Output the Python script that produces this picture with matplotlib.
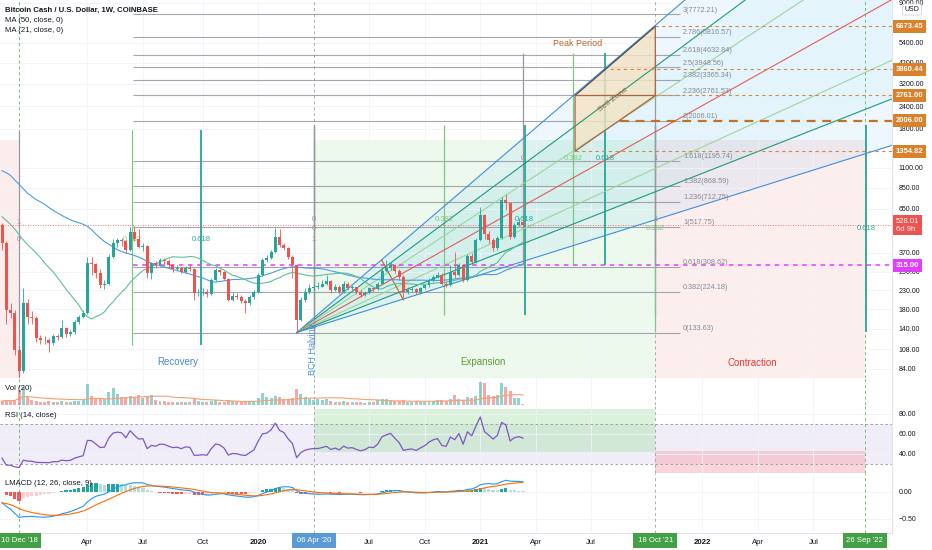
import numpy as np
import pandas as pd
import matplotlib
matplotlib.use('Agg')
import matplotlib.pyplot as plt
from matplotlib import transforms
from matplotlib.patches import Rectangle, Polygon
from matplotlib.ticker import NullLocator

plt.rcParams['font.family'] = ['Liberation Sans', 'DejaVu Sans']

# ---- weekly candles, first candle = week of 12 Nov 2018 ----
start = pd.Timestamp('2018-11-12')
first_open = 528.0
closes = [420, 178, 172, 107, 82, 195, 163, 160, 125, 122,
          121, 117, 128, 126, 142, 131, 134, 152, 163, 172,
          325, 320, 285, 245, 250, 351, 420, 436, 430, 384,
          483, 440, 400, 405, 286, 325, 315, 338, 335, 316,
          300, 305, 290, 305, 300, 221, 222, 225, 220, 262,
          297, 290, 265, 203, 213, 210, 200, 195, 210, 225,
          279, 338, 345, 374, 453, 409, 395, 351, 315, 157,
          203, 225, 235, 240, 240, 248, 257, 230, 240, 225,
          250, 235, 238, 225, 216, 222, 235, 232, 250, 293,
          305, 315, 293, 271, 225, 230, 232, 224, 235, 245,
          262, 273, 279, 250, 245, 291, 279, 315, 262, 354,
          330, 436, 600, 472, 436, 392, 446, 727, 697, 455,
          528, 551, 528.01]
highs = [545, 430, 195, 178, 112, 236, 205, 175, 165, 130,
         128, 125, 131, 132, 157, 144, 138, 156, 167, 178,
         351, 350, 325, 300, 262, 365, 440, 450, 445, 438,
         515, 520, 500, 420, 410, 330, 335, 345, 345, 340,
         320, 315, 310, 312, 320, 305, 232, 235, 232, 270,
         305, 300, 295, 268, 225, 222, 215, 205, 215, 230,
         285, 345, 360, 385, 508, 500, 420, 400, 360, 320,
         210, 235, 250, 250, 255, 260, 279, 260, 248, 244,
         258, 254, 246, 240, 230, 228, 240, 240, 256, 305,
         338, 330, 320, 300, 280, 238, 240, 236, 240, 250,
         268, 280, 290, 285, 258, 315, 376, 325, 320, 365,
         370, 450, 667, 610, 490, 445, 460, 759, 780, 700,
         540, 580, 560]
lows = [384, 150, 160, 100, 76, 80, 150, 150, 118, 115,
        116, 104, 114, 121, 124, 127, 128, 132, 149, 160,
        170, 280, 270, 235, 232, 245, 345, 400, 405, 370,
        380, 430, 395, 380, 270, 265, 305, 312, 320, 305,
        290, 295, 285, 285, 295, 203, 212, 215, 210, 215,
        258, 280, 260, 200, 200, 205, 195, 172, 190, 205,
        222, 275, 330, 340, 370, 400, 385, 340, 270, 133.63,
        155, 198, 220, 230, 232, 238, 245, 222, 226, 220,
        222, 230, 230, 220, 210, 212, 218, 225, 230, 248,
        288, 298, 285, 262, 207, 218, 225, 218, 220, 232,
        240, 256, 268, 245, 240, 242, 270, 275, 255, 258,
        320, 325, 430, 440, 420, 380, 385, 440, 640, 440,
        450, 520, 515]
volumes = [4, 5, 4, 5, 15, 18, 8, 5, 4, 3,
           3, 4, 3, 3, 4, 3, 3, 4, 4, 5,
           21, 9, 7, 7, 6, 13, 17, 11, 8, 8,
           9, 8, 10, 7, 8, 10, 5, 4, 4, 3,
           3, 3, 3, 3, 3, 6, 4, 3, 3, 4,
           5, 3, 3, 5, 4, 3, 3, 4, 3, 4,
           7, 12, 8, 7, 9, 8, 6, 6, 7, 16,
           11, 8, 6, 5, 6, 5, 6, 4, 3, 3,
           4, 3, 3, 3, 3, 2, 3, 3, 5, 6,
           6, 5, 4, 4, 5, 3, 3, 3, 3, 3,
           4, 4, 5, 5, 4, 6, 10, 6, 5, 8,
           7, 9, 23, 22, 10, 9, 10, 22, 18, 14,
           7, 7, 1]
# weekly closes before the window (Nov 2017 - Nov 2018), for MA / RSI / MACD warm-up
pre_closes = [1550, 1500, 1600, 1900, 3000, 2500, 2700, 2500, 1700, 1650,
              1150, 1250, 1500, 1250, 1200, 1100, 950, 950, 680, 630,
              700, 1050, 1400, 1650, 1400, 1230, 1050, 1150, 1100, 870,
              760, 740, 750, 750, 820, 820, 720, 570, 580, 540,
              630, 500, 480, 550, 530, 520, 450, 450, 440, 520, 530]

# ---- drawings ----
fib_levels = ['0', '0.382', '0.618', '1', '1.236', '1.382', '1.618', '2',
              '2.236', '2.382', '2.5', '2.618', '2.786', '3']
fib_prices = [133.63, 224.18, 308.62, 517.75, 712.75, 868.59, 1195.74, 2006.01,
              2761.53, 3365.34, 3948.56, 4632.84, 5816.57, 7772.21]
fan_origin = (69, 133.63)
fan_end_week = 208.4
fan_end_prices = [90000, 37500, 19650, 9400, 4330, 2643, 1460]
fan_colors = ['#3d8fe0', '#1e9a7e', '#9fd49a', '#e35d5a', '#9fd49a', '#1e9a7e', '#3d8fe0']

tag_prices = [6673.45, 3860.44, 2761.00, 2006.00, 1354.82]
tag_start_weeks = [153, 142.4, 153, 144.7, 134.2]

time_level_names = ['0', '0.382', '0.618', '1']
timeA_weeks = [4, 30.4, 46.6, 73]
timeB_weeks = [73, 103.6, 122.4, 153]
timeC_weeks = [73, 153, 202.4]
timeD_weeks = [122, 133.8, 141.2, 153]

sell_zone = [(134.2, 2761.0), (153, 6673.45), (153, 2761.0), (134.2, 1354.82)]

UP, DN = '#26a69a', '#ef5350'
GRAY = '#9598a1'
lvl_col = {'0': GRAY, '1': GRAY, '0.382': '#81c784', '0.618': '#26a69a'}

n = len(closes)
x = np.arange(n)
c = np.array(closes, dtype=float)
o = np.array([first_open] + closes[:-1], dtype=float)
h = np.array(highs, dtype=float)
l = np.array(lows, dtype=float)
up = c >= o
cols = np.where(up, UP, DN)

allc = pd.Series(pre_closes + closes, dtype=float)
k = len(pre_closes)
ma50 = allc.rolling(50).mean().values[k:]
ma21 = allc.rolling(21).mean().values[k:]
d = allc.diff()
g = d.clip(lower=0).ewm(alpha=1 / 14, adjust=False).mean()
ls_ = (-d.clip(upper=0)).ewm(alpha=1 / 14, adjust=False).mean()
rsi = (100 - 100 / (1 + g / ls_)).values[k:]
# log MACD: EMAs of ln(close)
lc = np.log(allc)
macd = lc.ewm(span=12, adjust=False).mean() - lc.ewm(span=26, adjust=False).mean()
sig = macd.ewm(span=9, adjust=False).mean()
hist = (macd - sig).values[k:]
macd = macd.values[k:]
sig = sig.values[k:]
vol_ma = pd.Series(volumes, dtype=float).rolling(20, min_periods=1).mean().values


def wk(date):
    return (pd.Timestamp(date) - start).days / 7


XMIN, XMAX = -0.47, 208.43
YMIN, YMAX = 74.8, 9350

fig = plt.figure(figsize=(9.32, 5.5), dpi=100)
W, H = 932.0, 550.0


def pane(top, bottom):
    return [0, 1 - bottom / H, 892 / W, (bottom - top) / H]


ax = fig.add_axes(pane(0, 378))
ax_vol = fig.add_axes(pane(378, 405))
ax_rsi = fig.add_axes(pane(405, 473))
ax_macd = fig.add_axes(pane(473, 533))
axes = [ax, ax_vol, ax_rsi, ax_macd]

month_ticks = [('2019-04-01', 'Apr', False), ('2019-07-01', 'Jul', False), ('2019-10-07', 'Oct', False),
               ('2020-01-06', '2020', True), ('2020-07-06', 'Jul', False), ('2020-10-05', 'Oct', False),
               ('2021-01-04', '2021', True), ('2021-04-05', 'Apr', False), ('2021-07-05', 'Jul', False),
               ('2022-01-03', '2022', True), ('2022-04-04', 'Apr', False), ('2022-07-04', 'Jul', False)]
month_w = [wk(m[0]) for m in month_ticks]

for a in axes:
    a.set_xlim(XMIN, XMAX)
    a.set_xticks(month_w)
    a.tick_params(axis='x', length=0, labelbottom=False)
    a.yaxis.tick_right()
    a.tick_params(axis='y', length=0, labelsize=5, colors='#131722', pad=5)
    a.grid(True, color='#f0f3fa', lw=0.6)
    a.set_axisbelow(True)
    for s in ['top', 'left']:
        a.spines[s].set_visible(False)
    for s in ['right', 'bottom']:
        a.spines[s].set_color('#e0e3eb')
        a.spines[s].set_linewidth(0.8)

# ---- main price pane ----
ax.set_yscale('log')
ax.set_ylim(YMIN, YMAX)
price_ticks = [84, 108, 140, 180, 230, 290, 370, 650, 850, 1100, 1800, 2400, 3200, 4200, 5400, 9000]
ax.set_yticks(price_ticks)
ax.set_yticklabels([f'{t:.2f}' for t in price_ticks])
ax.yaxis.set_minor_locator(NullLocator())

# background cycle zones
ax.fill_between([XMIN, 4], YMIN, 1563, color='#f9d9d9', alpha=0.45, lw=0, zorder=0.2)
ax.fill_between([73, 153], YMIN, 1563, color='#d6f2d6', alpha=0.45, lw=0, zorder=0.2)
ax.fill_between([153, 202], YMIN, 1563, color='#fbdada', alpha=0.45, lw=0, zorder=0.2)

# speed resistance fan
ox, oy = fan_origin
ax.fill([ox, fan_end_week, fan_end_week], [oy, fan_end_prices[0], fan_end_prices[-1]],
        color='#2196f3', alpha=0.07, lw=0, zorder=0.5)
ax.fill([ox, fan_end_week, fan_end_week], [oy, fan_end_prices[1], fan_end_prices[-2]],
        color='#26c6da', alpha=0.05, lw=0, zorder=0.5)
for p, col in zip(fan_end_prices, fan_colors):
    ax.plot([ox, fan_end_week], [oy, p], color=col, lw=0.8, zorder=2)

# fib extension levels
ax.hlines(fib_prices, 30.7, 158.8, color=GRAY, lw=0.8, alpha=0.85, zorder=1.5)
for lv, p in zip(fib_levels, fib_prices):
    ax.annotate(f'{lv}({p:.2f})', (159.5, p), xytext=(0, 3.2), textcoords='offset points',
                fontsize=5.2, color='#858892', va='center', ha='left', zorder=3)

# trend based fib time
def time_tool(weeks, lo, hi, label_p, names=time_level_names):
    for w, nm in zip(weeks, names):
        ax.vlines(w, lo, hi, color=lvl_col[nm], lw=1.3 if nm == '0.618' else 0.9, zorder=1.6)
        ax.text(w, label_p, nm, fontsize=5.5, color=lvl_col[nm], ha='center', va='center', zorder=3)


time_tool(timeA_weeks, 114, 1777, 441)
ax.vlines(4, YMIN, 114, color=GRAY, lw=0.9, zorder=1.6)
ax.text(4, 548, '1', fontsize=5.5, color=GRAY, ha='center', va='center')
time_tool(timeB_weeks, 167, 1893, 563)
time_tool(timeC_weeks, 135, 1893, 502, names=['0', '0.382', '0.618'])
time_tool(timeD_weeks, 317, 4753, 1228)

# horizontal rays / price tags
ax.axhline(528.01, color=DN, lw=0.6, ls=(0, (1, 2)), zorder=2)
ax.hlines(315, 30.7, XMAX, color='#e040fb', lw=1.1, ls=(0, (3, 3)), zorder=2.5)
for p, s0 in zip(tag_prices, tag_start_weeks):
    big = p == 2006.00
    ax.hlines(p, s0, XMAX, color='#c0722b' if big else '#d08a4a', lw=1.6 if big else 0.8,
              ls=(0, (4, 3)) if big else (0, (3, 3)), zorder=2.5)

# sell zone
ax.add_patch(Polygon(sell_zone, closed=True, fc='#f3e3c3', ec='none', alpha=0.8, zorder=1.7))
zx = [p[0] for p in sell_zone]
zy = [p[1] for p in sell_zone]
ax.plot([zx[0], zx[1]], [zy[0], zy[1]], color='#4e4a4a', lw=0.9, zorder=2.6)
ax.plot([zx[1], zx[2], zx[3], zx[0], zx[2]], [zy[1], zy[2], zy[3], zy[0], zy[2]],
        color='#a8653e', lw=0.9, zorder=2.6)
ax.text(134.7, 5330, 'Peak Period', fontsize=6.5, color='#b5652a', ha='center', va='center')
ax.text(143.1, 2606, 'Sell Zone', fontsize=6, color='#a8653e', ha='center', va='center',
        rotation=38, zorder=6)

# small corrective leg
ax.plot([88.9, 94], [338, 203], color='#b5652a', lw=0.8, zorder=2.6)

# candles
ax.vlines(x, l, h, color=cols, lw=0.6, zorder=4)
ax.bar(x, np.maximum(np.abs(c - o), c * 0.006), bottom=np.minimum(o, c), width=0.7,
       color=cols, zorder=5)
ax.plot(x, ma50, color='#4c9be8', lw=0.8, zorder=4.5)
ax.plot(x, ma21, color='#5fbf9a', lw=0.8, zorder=4.5)

# zone names
ax.text(41.2, 91.8, 'Recovery', fontsize=7, color='#4a86c8', ha='center', va='center')
ax.text(112.6, 91.8, 'Expansion', fontsize=7, color='#5f9a36', ha='center', va='center')
ax.text(175.6, 90.6, 'Contraction', fontsize=7, color='#e53935', ha='center', va='center')
ax.text(72.8, 108, 'BCH Halving', fontsize=6.5, color='#4a90d9', ha='center', va='center', rotation=90)

# price axis tags
trans = transforms.blended_transform_factory(ax.transAxes, ax.transData)
for p in tag_prices:
    ax.text(1.004, p, f'{p:.2f}', transform=trans, fontsize=5.5, color='white', fontweight='bold',
            va='center', ha='left', zorder=10, clip_on=False,
            bbox=dict(boxstyle='square,pad=0.38', fc='#d9822b', ec='none'))
ax.text(1.004, 528.01, '528.01\n6d 9h', transform=trans, fontsize=5.5, color='white',
        va='center', ha='left', zorder=10, clip_on=False, linespacing=1.2,
        bbox=dict(boxstyle='square,pad=0.38', fc='#ef5350', ec='none'))
ax.text(1.004, 315, '315.00', transform=trans, fontsize=5.5, color='white', fontweight='bold',
        va='center', ha='left', zorder=10, clip_on=False,
        bbox=dict(boxstyle='square,pad=0.38', fc='#e040fb', ec='none'))
fig.text(912 / W, 1 - 9.5 / H, 'USD', fontsize=5, color='#131722', ha='center', va='center', zorder=20,
         bbox=dict(boxstyle='round,pad=0.3', fc='white', ec='#d1d4dc', lw=0.6))

# header
fig.text(5 / W, 1 - 10 / H, 'Bitcoin Cash / U.S. Dollar, 1W, COINBASE', fontsize=5.6,
         fontweight='bold', color='#131722', va='center')
fig.text(5 / W, 1 - 20.5 / H, 'MA (50, close, 0)', fontsize=5.6, color='#131722', va='center')
fig.text(5 / W, 1 - 31 / H, 'MA (21, close, 0)', fontsize=5.6, color='#131722', va='center')

# ---- volume ----
ax_vol.set_ylim(0, 27)
ax_vol.set_yticks([])
ax_vol.bar(x, volumes, width=0.7, color=cols, alpha=0.5, zorder=2)
ax_vol.plot(x, vol_ma, color='#f5a070', lw=0.8, zorder=3)
ax_vol.text(0.006, 0.6, 'Vol (20)', transform=ax_vol.transAxes, fontsize=5.6, color='#131722', va='center')

# ---- RSI ----
ax_rsi.set_ylim(21, 89)
ax_rsi.set_yticks([40, 60, 80])
ax_rsi.set_yticklabels(['40.00', '60.00', '80.00'])
ax_rsi.axhspan(30, 70, color='#7e57c2', alpha=0.1, lw=0, zorder=0.3)
ax_rsi.axhline(70, color=GRAY, lw=0.6, ls=(0, (3, 3)))
ax_rsi.axhline(30, color=GRAY, lw=0.6, ls=(0, (3, 3)))
ax_rsi.fill_between([73, 153], 42, 85, color='#aee3ae', alpha=0.45, lw=0, zorder=0.4)
ax_rsi.fill_between([153, 202], 21, 42.5, color='#f5a3b0', alpha=0.45, lw=0, zorder=0.4)
ax_rsi.plot(x, rsi, color='#7e57c2', lw=0.9, zorder=3)
ax_rsi.text(0.006, 0.84, 'RSI (14, close)', transform=ax_rsi.transAxes, fontsize=5.6, color='#131722', va='center')

# ---- LMACD ----
ax_macd.set_ylim(-0.76, 0.352)
ax_macd.set_yticks([-0.5, 0.0])
ax_macd.set_yticklabels(['\u22120.50', '0.00'])
hc = []
for i in range(n):
    prev = hist[i - 1] if i > 0 else hist[i]
    if hist[i] >= 0:
        hc.append('#26a69a' if hist[i] > prev else '#b2dfdb')
    else:
        hc.append('#ffcdd2' if hist[i] > prev else '#ff5252')
ax_macd.bar(x, hist, width=0.75, color=hc, zorder=2)
ax_macd.plot(x, macd, color='#2196f3', lw=0.8, zorder=3)
ax_macd.plot(x, sig, color='#ff6d00', lw=0.8, zorder=3)
ax_macd.text(0.006, 0.82, 'LMACD (12, 26, close, 9)', transform=ax_macd.transAxes, fontsize=5.6,
             color='#131722', va='center')

# cycle date markers
for a in axes:
    a.axvline(4, color='#4caf50', lw=0.7, ls=(0, (3, 3)), alpha=0.8, zorder=1)
    a.axvline(73, color=GRAY, lw=0.7, ls=(0, (3, 3)), alpha=0.8, zorder=1)
    a.axvline(153, color=GRAY, lw=0.7, ls=(0, (3, 3)), alpha=0.8, zorder=1)
    a.axvline(202, color='#4caf50', lw=0.7, ls=(0, (3, 3)), alpha=0.8, zorder=1)

# ---- time axis ----
tx = transforms.blended_transform_factory(ax_macd.transData, fig.transFigure)
for (dte, lab, bold), w in zip(month_ticks, month_w):
    fig.text(w, 1 - 542 / H, lab, transform=tx, fontsize=5.6, color='#131722',
             fontweight='bold' if bold else 'normal', ha='center', va='center')
date_boxes = [('2018-12-10', "10 Dec '18", '#43a047'), ('2020-04-06', "06 Apr '20", '#5b9bd5'),
              ('2021-10-18', "18 Oct '21", '#43a047'), ('2022-09-26', "26 Sep '22", '#43a047')]
for dte, lab, fc in date_boxes:
    w = wk(dte)
    fig.patches.append(Rectangle((w - 5.15, 1 - 548 / H), 10.3, 15 / H, transform=tx,
                                 fc=fc, ec='none', zorder=5))
    fig.text(w, 1 - 541 / H, lab, transform=tx, fontsize=5.6, color='white',
             ha='center', va='center', zorder=6)

fig.savefig('out.png', dpi=100, facecolor='white')
